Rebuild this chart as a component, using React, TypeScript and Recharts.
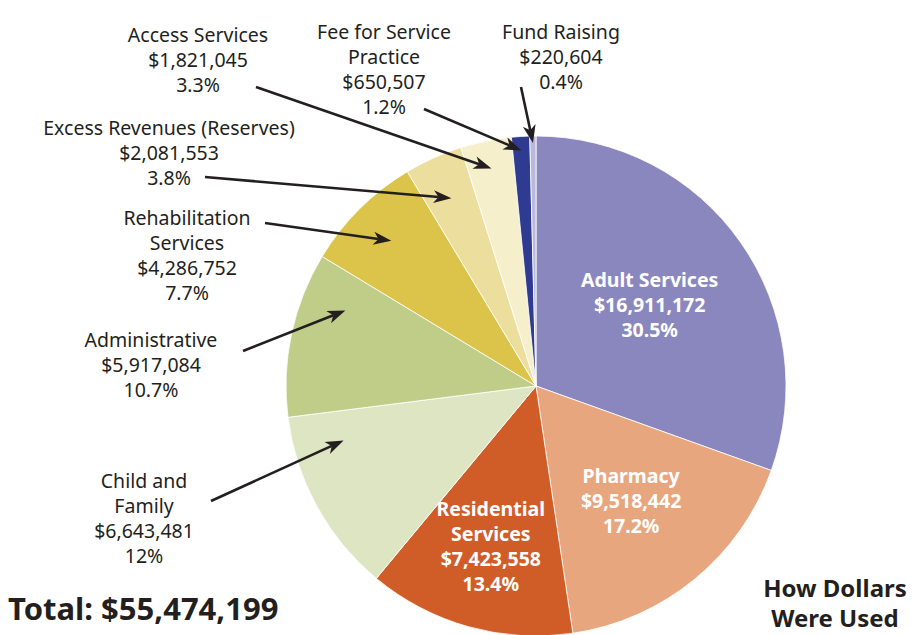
import React from 'react';
import { Cell, Pie, PieChart } from 'recharts';

const categories = [
  'Adult Services',
  'Pharmacy',
  'Residential Services',
  'Child and Family',
  'Administrative',
  'Rehabilitation Services',
  'Excess Revenues (Reserves)',
  'Access Services',
  'Fee for Service Practice',
  'Fund Raising',
];
const amounts = [16911172, 9518442, 7423558, 6643481, 5917084, 4286752, 2081553, 1821045, 650507, 220604];
const percentLabels = ['30.5%', '17.2%', '13.4%', '12%', '10.7%', '7.7%', '3.8%', '3.3%', '1.2%', '0.4%'];
const nameLines = [
  ['Adult Services'],
  ['Pharmacy'],
  ['Residential', 'Services'],
  ['Child and', 'Family'],
  ['Administrative'],
  ['Rehabilitation', 'Services'],
  ['Excess Revenues (Reserves)'],
  ['Access Services'],
  ['Fee for Service', 'Practice'],
  ['Fund Raising'],
];
const totalLabel = 'Total: $55,474,199';
const titleLines = ['How Dollars', 'Were Used'];

const colors = ['#8a87bf', '#e8a67e', '#d05d28', '#dde5c3', '#c0cd88', '#dcc44a', '#ecdf9e', '#f5efcb', '#2f3b91', '#b9b8dd'];

const data = categories.map((name, i) => ({ name, value: amounts[i] }));

// where each label goes: inside slices by radius, outside ones by text pos + arrow
type Spec =
  | { inside: true; r: number }
  | { inside: false; x: number; y: number; from: [number, number]; f: number; r: number };

const labelSpecs: Spec[] = [
  { inside: true, r: 139 },
  { inside: true, r: 150 },
  { inside: true, r: 168 },
  { inside: false, x: 144, y: 488, from: [211, 501], f: 0.8, r: 200 },
  { inside: false, x: 151, y: 347, from: [243, 351], f: 0.75, r: 205 },
  { inside: false, x: 187, y: 225, from: [265, 223], f: 0.5, r: 205 },
  { inside: false, x: 169, y: 135, from: [205, 177], f: 0.5, r: 206 },
  { inside: false, x: 198, y: 42, from: [256, 87], f: 0.5, r: 222 },
  { inside: false, x: 384, y: 39, from: [424, 109], f: 0.5, r: 236 },
  { inside: false, x: 561, y: 39, from: [521, 87], f: 0.5, r: 243 },
];

const LINE = 25;
const FONT = '"Noto Sans", "Open Sans", sans-serif';
const RADIAN = Math.PI / 180;

const fmt = (v: number) => `$${v.toLocaleString('en-US')}`;

const Arrow = ({ x1, y1, x2, y2 }: { x1: number; y1: number; x2: number; y2: number }) => {
  const len = Math.hypot(x2 - x1, y2 - y1);
  const ux = (x2 - x1) / len;
  const uy = (y2 - y1) / len;
  const nx = -uy;
  const ny = ux;
  const L = 18;
  const W = 6.5;
  const notch = 13;
  const bx = x2 - L * ux;
  const by = y2 - L * uy;
  const pts = [
    [x2, y2],
    [bx + W * nx, by + W * ny],
    [x2 - notch * ux, y2 - notch * uy],
    [bx - W * nx, by - W * ny],
  ]
    .map((p) => p.join(','))
    .join(' ');
  return (
    <g>
      <line x1={x1} y1={y1} x2={x2 - notch * ux} y2={y2 - notch * uy} stroke="#231f20" strokeWidth={2.6} />
      <polygon points={pts} fill="#231f20" />
    </g>
  );
};

const renderLabel = (props: any) => {
  const { cx, cy, startAngle, endAngle, midAngle, index } = props;
  const spec = labelSpecs[index];
  const lines = [...nameLines[index], fmt(amounts[index]), percentLabels[index]];

  if (spec.inside) {
    const x = cx + spec.r * Math.cos(-midAngle * RADIAN);
    const y = cy + spec.r * Math.sin(-midAngle * RADIAN);
    const y0 = y - ((lines.length - 1) * LINE) / 2 + 6;
    return (
      <text textAnchor="middle" fill="#ffffff" fontFamily={FONT} fontSize={19.5} fontWeight={700}>
        {lines.map((l, i) => (
          <tspan key={i} x={x} y={y0 + i * LINE}>
            {l}
          </tspan>
        ))}
      </text>
    );
  }

  const angle = startAngle + spec.f * (endAngle - startAngle);
  const tx = cx + spec.r * Math.cos(-angle * RADIAN);
  const ty = cy + spec.r * Math.sin(-angle * RADIAN);
  return (
    <g>
      <text textAnchor="middle" fill="#231f20" fontFamily={FONT} fontSize={19.5}>
        {lines.map((l, i) => (
          <tspan key={i} x={spec.x} y={spec.y + i * LINE}>
            {l}
          </tspan>
        ))}
      </text>
      <Arrow x1={spec.from[0]} y1={spec.from[1]} x2={tx} y2={ty} />
    </g>
  );
};

const App = () => {
  return (
    <div style={{ position: 'absolute', left: 0, top: 0, width: 915, height: 635, background: '#fff' }}>
      <PieChart width={915} height={635} margin={{ top: 0, right: 0, bottom: 0, left: 0 }}>
        <Pie
          data={data}
          dataKey="value"
          nameKey="name"
          cx={536}
          cy={386}
          outerRadius={250}
          startAngle={90}
          endAngle={-270}
          stroke="#ffffff"
          strokeWidth={0.8}
          label={renderLabel}
          labelLine={false}
          isAnimationActive={false}
        >
          {data.map((d, i) => (
            <Cell key={d.name} fill={colors[i]} />
          ))}
        </Pie>
      </PieChart>
      <svg width={915} height={635} style={{ position: 'absolute', left: 0, top: 0, pointerEvents: 'none' }}>
        <text x={8} y={620} fontFamily={FONT} fontSize={31} fontWeight={700} fill="#231f20">
          {totalLabel}
        </text>
        <text textAnchor="middle" fontFamily={FONT} fontSize={24} fontWeight={700} fill="#231f20">
          {titleLines.map((l, i) => (
            <tspan key={i} x={835} y={597 + i * 30}>
              {l}
            </tspan>
          ))}
        </text>
      </svg>
    </div>
  );
};

export default App;
